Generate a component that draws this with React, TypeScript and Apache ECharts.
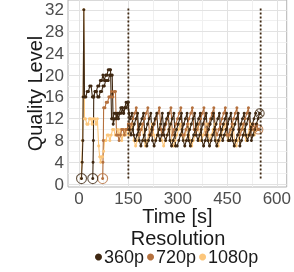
import React, { useEffect, useRef } from "react";
import * as echarts from "echarts";

// ---- data ----
const resolutions = ["360p", "720p", "1080p"];
const resColors: Record<string, string> = { "360p": "#3f2812", "720p": "#b5713f", "1080p": "#fcc67b" };

const xTicks = [0, 150, 300, 450, 600];
const xMinor = [75, 225, 375, 525];
const yTicks = [0, 4, 8, 12, 16, 20, 24, 28, 32];
const yMinor = [2, 6, 10, 14, 18, 22, 26, 30];

// vertical dotted markers (time, s) and their span (quality level)
const vlineTimes = [150, 551];
const vlineSpan = [1, 32.5];

const sampleStep = 5;

// run A, 360p
const run360aEarly = [[8, 1], [10, 4], [12, 8], [13, 16], [15, 32], [17, 16], [21, 16], [25, 17], [29, 17], [33, 18], [37, 18], [41, 16], [45, 16], [49, 17], [53, 17], [57, 18], [61, 18], [65, 19], [69, 19], [73, 20], [77, 19], [81, 20], [85, 20], [89, 21], [93, 21], [96, 21], [99, 12], [103, 12], [107, 13], [111, 13], [115, 12], [119, 13], [123, 13], [127, 14], [131, 14], [135, 13], [139, 14], [143, 15], [147, 15], [150, 15]];
const run360aSteadyStart = 153;
const run360aSteady = [10, 9, 10, 11, 12, 13, 8, 7, 8, 9, 10, 11, 12, 13, 8, 7, 8, 9, 10, 11, 13, 9, 8, 9, 10, 11, 12, 13, 7, 7, 8, 9, 10, 11, 12, 13, 8, 7, 8, 9, 10, 11, 12, 13, 8, 7, 8, 9, 10, 11, 12, 13, 8, 7, 8, 9, 10, 11, 12, 13, 8, 8, 9, 10, 11, 12, 13, 7, 8, 9, 10, 11, 12, 13, 8, 9, 10, 11, 12, 13];

// run B, 360p
const run360bEarly = [[42, 1], [43, 4], [44, 8], [45, 16], [49, 17], [53, 17], [57, 16], [61, 16], [65, 17], [69, 17], [73, 18], [77, 18], [81, 19], [85, 19], [89, 19], [93, 20], [97, 20], [101, 20], [104, 11], [108, 12], [112, 12], [116, 13], [120, 12], [124, 13], [128, 13], [132, 14], [136, 13], [140, 14], [144, 14], [148, 15], [152, 13]];
const run360bSteadyStart = 156;
const run360bSteady = [12, 13, 9, 8, 9, 10, 11, 12, 13, 8, 7, 8, 9, 10, 11, 12, 13, 9, 8, 9, 10, 11, 12, 13, 8, 7, 8, 9, 10, 11, 12, 13, 8, 7, 8, 9, 10, 11, 12, 13, 9, 8, 9, 10, 11, 12, 13, 8, 7, 8, 9, 10, 11, 12, 13, 9, 8, 9, 10, 11, 12, 13, 8, 7, 8, 9, 10, 11, 12, 13, 9, 8, 9, 10, 11, 12, 13];

// 720p
const run720Early = [[72, 1], [73, 4], [74, 8], [75, 14], [79, 14], [83, 15], [87, 15], [91, 16], [95, 16], [99, 17], [103, 16], [107, 17], [111, 17], [114, 9], [118, 9], [122, 8], [126, 9], [130, 10], [134, 10], [138, 9], [142, 10], [146, 10], [150, 11]];
const run720SteadyStart = 154;
const run720Steady = [10, 11, 12, 13, 14, 10, 9, 10, 11, 12, 13, 14, 9, 9, 10, 11, 12, 13, 14, 10, 9, 10, 11, 12, 13, 14, 9, 10, 11, 12, 13, 14, 9, 9, 10, 11, 12, 13, 14, 10, 9, 10, 11, 12, 13, 14, 9, 10, 11, 12, 13, 14, 10, 9, 10, 11, 12, 13, 14, 9, 9, 10, 11, 12, 13, 14, 10, 9, 10, 11, 12, 13, 14, 9, 10, 11, 10, 11, 10];

// 1080p
const run1080Early = [[7, 1], [9, 4], [11, 8], [13, 16], [15, 32], [17, 12], [20, 12], [24, 11], [28, 11], [32, 12], [36, 12], [40, 11], [44, 12], [48, 12], [52, 11], [56, 12], [60, 7], [63, 5], [66, 4], [69, 5], [72, 5], [75, 6], [78, 8], [82, 8], [86, 9], [90, 9], [94, 8], [98, 9], [102, 10], [106, 10], [110, 9], [114, 9], [118, 10], [122, 9], [126, 10], [130, 8], [134, 9], [138, 10], [142, 9], [146, 10], [150, 10]];
const run1080SteadyStart = 152;
const run1080Steady = [9, 10, 11, 8, 7, 8, 9, 10, 11, 8, 7, 8, 9, 10, 11, 9, 8, 9, 10, 11, 8, 7, 8, 9, 10, 11, 8, 7, 8, 9, 10, 11, 9, 8, 9, 10, 11, 8, 7, 8, 9, 10, 11, 8, 8, 9, 10, 11, 9, 8, 9, 10, 11, 8, 7, 8, 9, 10, 11, 9, 8, 9, 10, 11, 8, 7, 8, 9, 10, 11, 9, 8, 9, 10, 11, 10, 9, 10];

// ---- helpers ----
function buildRun(early: number[][], start: number, steady: number[]) {
  return early.concat(steady.map((v, i) => [start + i * sampleStep, v]));
}

const runs = [
  { res: "1080p", data: buildRun(run1080Early, run1080SteadyStart, run1080Steady), endMark: false },
  { res: "720p", data: buildRun(run720Early, run720SteadyStart, run720Steady), endMark: true },
  { res: "360p", data: buildRun(run360bEarly, run360bSteadyStart, run360bSteady), endMark: false },
  { res: "360p", data: buildRun(run360aEarly, run360aSteadyStart, run360aSteady), endMark: true },
];

const FONT = "Liberation Sans";
const CROSS_CIRCLE = "path://M0,-10A10,10 0 1,1 0,10A10,10 0 1,1 0,-10Z M-7,-7L7,7 M7,-7L-7,7";

export default function App() {
  const ref = useRef<HTMLDivElement>(null);
  useEffect(() => {
    if (!ref.current) return;
    const chart = echarts.init(ref.current, undefined, { renderer: "svg" });

    const gridSeries: any = {
      type: "line",
      name: "grid",
      data: [],
      silent: true,
      markLine: {
        silent: true,
        z: 1,
        symbol: ["none", "none"],
        label: { show: false },
        emphasis: { disabled: true },
        data: [
          ...yMinor.map((v) => ({ yAxis: v, lineStyle: { color: "#f0f0f0", width: 1, type: "solid" } })),
          ...xMinor.map((v) => ({ xAxis: v, lineStyle: { color: "#f0f0f0", width: 1, type: "solid" } })),
          ...yTicks.map((v) => ({ yAxis: v, lineStyle: { color: "#e2e2e2", width: 1, type: "solid" } })),
          ...xTicks.map((v) => ({ xAxis: v, lineStyle: { color: "#e2e2e2", width: 1, type: "solid" } })),
        ],
      },
    };

    const lineSeries = runs.map((r) => ({
      type: "line",
      name: r.res,
      data: r.data,
      z: 3,
      symbol: "circle",
      symbolSize: 3,
      showSymbol: true,
      lineStyle: { color: resColors[r.res], width: 1.1 },
      itemStyle: { color: resColors[r.res] },
      emphasis: { disabled: true },
    }));

    const startSeries = runs
      .filter((r) => r.res !== "1080p")
      .map((r) => ({
        type: "scatter",
        name: "start-" + r.res,
        data: [r.data[0]],
        z: 4,
        symbol: "circle",
        symbolSize: 10,
        itemStyle: { color: "none", borderColor: resColors[r.res], borderWidth: 1.1 },
      }));

    const endSeries = runs
      .filter((r) => r.endMark)
      .map((r) => ({
        type: "scatter",
        name: "end-" + r.res,
        data: [r.data[r.data.length - 1]],
        z: 4,
        symbol: CROSS_CIRCLE,
        symbolSize: 9,
        itemStyle: { color: "none", borderColor: resColors[r.res], borderWidth: 1.1 },
      }));

    const vlineSeries = vlineTimes.map((t) => ({
      type: "line",
      name: "vline",
      data: vlineSpan.map((v) => [t, v]),
      z: 5,
      showSymbol: false,
      symbol: "none",
      lineStyle: { color: "#3f2812", width: 1.8, type: [2, 2] },
    }));

    chart.setOption({
      animation: false,
      grid: {
        left: 68,
        right: 6,
        top: 0,
        bottom: 85,
        show: true,
        borderColor: "#b3b3b3",
        borderWidth: 1,
        backgroundColor: "#ffffff",
      },
      xAxis: {
        type: "value",
        min: -33,
        max: 630,
        name: "Time [s]",
        nameLocation: "middle",
        nameGap: 20,
        nameMoveOverlap: false,
        nameTextStyle: { fontFamily: FONT, fontSize: 20, lineHeight: 18, color: "#1a1a1a" },
        axisLine: { show: false },
        axisTick: { show: true, customValues: xTicks, length: 3, lineStyle: { color: "#b3b3b3" } },
        axisLabel: { customValues: xTicks, fontFamily: FONT, fontSize: 17, lineHeight: 15, color: "#4d4d4d", margin: 4 },
        splitLine: { show: false },
      },
      yAxis: {
        type: "value",
        min: -0.55,
        max: 33.8,
        name: "Quality Level",
        nameLocation: "middle",
        nameGap: 23,
        nameMoveOverlap: false,
        nameTextStyle: { fontFamily: FONT, fontSize: 20, color: "#1a1a1a" },
        axisLine: { show: false },
        axisTick: { show: true, customValues: yTicks, length: 3, lineStyle: { color: "#b3b3b3" } },
        axisLabel: { customValues: yTicks, fontFamily: FONT, fontSize: 17, color: "#4d4d4d", margin: 4 },
        splitLine: { show: false },
      },
      legend: {
        data: resolutions,
        left: 95,
        top: 248,
        icon: "circle",
        itemWidth: 7,
        itemHeight: 7,
        itemGap: 3,
        padding: 0,
        textStyle: { fontFamily: FONT, fontSize: 18, lineHeight: 15, color: "#1a1a1a", padding: [0, 0, 0, -3] },
      },
      graphic: [
        {
          type: "text",
          x: 178,
          y: 238,
          style: {
            text: "Resolution",
            fontFamily: FONT,
            fontSize: 20,
            lineHeight: 16,
            fill: "#1a1a1a",
            textAlign: "center",
            textVerticalAlign: "middle",
          },
        },
      ],
      series: [gridSeries, ...lineSeries, ...startSeries, ...endSeries, ...vlineSeries],
    });
    return () => chart.dispose();
  }, []);
  return <div ref={ref} style={{ position: "fixed", left: 0, top: 0, width: 294, height: 272 }} />;
}
